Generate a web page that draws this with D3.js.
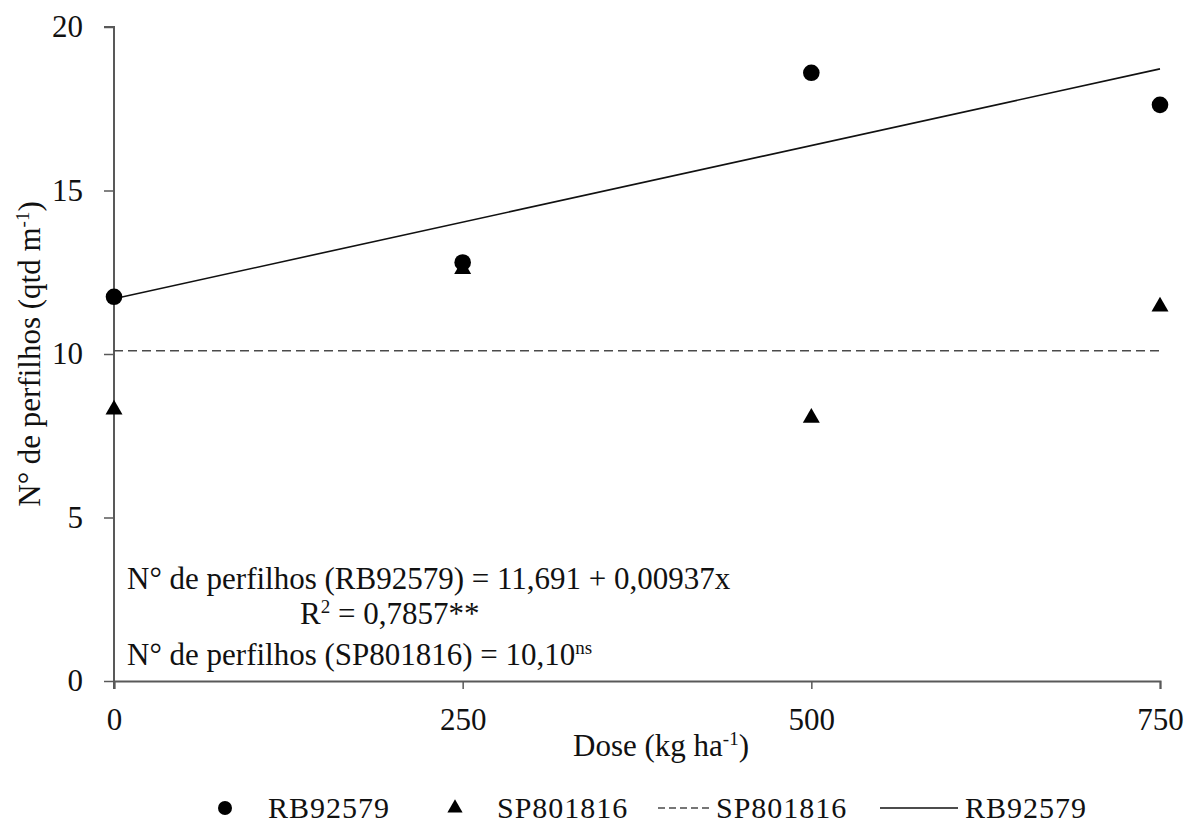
<!DOCTYPE html>
<html>
<head>
<meta charset="utf-8">
<script src="https://cdn.jsdelivr.net/npm/d3@7"></script>
<style>
  html, body { margin: 0; padding: 0; background: #fff; }
  svg { display: block; font-family: "Liberation Serif", "Times New Roman", serif; }
</style>
</head>
<body>
<svg id="chart" width="1187" height="823"></svg>
<script>
// Doses of fertilizer (kg ha-1)
const doses = [0, 250, 500, 750];
// Tiller counts per metre for each cultivar
const rb92579 = [11.75, 12.8, 18.6, 17.62];
const sp801816 = [8.3, 12.6, 8.05, 11.45];
// Fitted models
const rbIntercept = 11.691;
const rbSlope = 0.00937;
const spMean = 10.10;
// Axis ticks
const xTicks = [0, 250, 500, 750];
const yTicks = [0, 5, 10, 15, 20];

(function () {
const svg = d3.select("#chart");
const mLeft = 114, mRight = 1160, mTop = 27, mBottom = 681;

const x = d3.scaleLinear().domain([0, 750]).range([mLeft, mRight]);
const y = d3.scaleLinear().domain([0, 20]).range([mBottom, mTop]);

const axisColor = "#595959";
const fontSize = 31;
const supSize = 19;

// y axis
const gy = svg.append("g").attr("transform", `translate(${mLeft},0)`)
  .call(d3.axisLeft(y).tickValues(yTicks).tickSize(10).tickPadding(21).tickFormat(d3.format("d")));
// x axis
const gx = svg.append("g").attr("transform", `translate(0,${mBottom})`)
  .call(d3.axisBottom(x).tickValues(xTicks).tickSize(8).tickPadding(19).tickFormat(d3.format("d")));
[gx, gy].forEach(g => {
  g.select(".domain").attr("stroke", axisColor).attr("stroke-width", 2);
  g.selectAll(".tick line").attr("stroke", axisColor).attr("stroke-width", 1.5);
  g.selectAll(".tick text").attr("fill", "#111")
    .style("font-family", "'Liberation Serif', 'Times New Roman', serif")
    .style("font-size", fontSize + "px");
});
// the y axis line reaches down past the origin tick
gy.select(".domain").attr("d", `M-10,${mTop}H0V${mBottom + 8}`);

// Constant model for SP801816 (dashed)
svg.append("line")
  .attr("x1", x(0)).attr("x2", x(750))
  .attr("y1", y(spMean)).attr("y2", y(spMean))
  .attr("stroke", "#4a4a4a").attr("stroke-width", 1.5)
  .attr("stroke-dasharray", "9,5");

// Linear model for RB92579
const line = d3.line().x(d => x(d)).y(d => y(rbIntercept + rbSlope * d));
svg.append("path").datum([0, 750]).attr("d", line)
  .attr("fill", "none").attr("stroke", "#111").attr("stroke-width", 1.6);

// Observed points
const tri = d3.symbol().type(d3.symbolTriangle).size(125);
svg.append("g").selectAll("path").data(doses).join("path")
  .attr("d", tri)
  .attr("transform", (d, i) => `translate(${x(d)},${y(sp801816[i])})`)
  .attr("fill", "#000");
svg.append("g").selectAll("circle").data(doses).join("circle")
  .attr("cx", d => x(d)).attr("cy", (d, i) => y(rb92579[i]))
  .attr("r", 8.3).attr("fill", "#000");

// Axis titles
svg.append("text")
  .attr("transform", `translate(40,${(mTop + mBottom) / 2}) rotate(-90)`)
  .attr("text-anchor", "middle").style("font-size", fontSize + "px").attr("fill", "#111")
  .call(t => {
    t.append("tspan").text("N° de perfilhos (qtd m");
    t.append("tspan").attr("dy", -11).style("font-size", supSize + "px").text("-1");
    t.append("tspan").attr("dy", 11).text(")");
  });
svg.append("text")
  .attr("x", 661).attr("y", 756)
  .attr("text-anchor", "middle").style("font-size", fontSize + "px").attr("fill", "#111")
  .call(t => {
    t.append("tspan").text("Dose (kg ha");
    t.append("tspan").attr("dy", -11).style("font-size", supSize + "px").text("-1");
    t.append("tspan").attr("dy", 11).text(")");
  });

// Regression equations
const eq = svg.append("g").style("font-size", fontSize + "px").attr("fill", "#111");
eq.append("text").attr("x", 127).attr("y", 589)
  .text("N° de perfilhos (RB92579) = 11,691 + 0,00937x");
eq.append("text").attr("x", 300).attr("y", 624)
  .call(t => {
    t.append("tspan").text("R");
    t.append("tspan").attr("dy", -11).style("font-size", supSize + "px").text("2");
    t.append("tspan").attr("dy", 11).text(" = 0,7857**");
  });
eq.append("text").attr("x", 127).attr("y", 665)
  .call(t => {
    t.append("tspan").text("N° de perfilhos (SP801816) = 10,10");
    t.append("tspan").attr("dy", -11).style("font-size", supSize + "px").text("ns");
  });

// Legend
const ly = 808;
const lg = svg.append("g").style("font-size", "30px").style("letter-spacing", "1px").attr("fill", "#111");
lg.append("circle").attr("cx", 225).attr("cy", ly).attr("r", 7).attr("fill", "#000");
lg.append("text").attr("x", 268).attr("y", ly + 10).text("RB92579");
lg.append("path").attr("d", d3.symbol().type(d3.symbolTriangle).size(100))
  .attr("transform", `translate(455,${ly})`).attr("fill", "#000");
lg.append("text").attr("x", 497).attr("y", ly + 10).text("SP801816");
lg.append("line").attr("x1", 658).attr("x2", 712).attr("y1", ly).attr("y2", ly)
  .attr("stroke", "#4a4a4a").attr("stroke-width", 1.5).attr("stroke-dasharray", "7,4");
lg.append("text").attr("x", 716).attr("y", ly + 10).text("SP801816");
lg.append("line").attr("x1", 880).attr("x2", 958).attr("y1", ly).attr("y2", ly)
  .attr("stroke", "#111").attr("stroke-width", 1.5);
lg.append("text").attr("x", 965).attr("y", ly + 10).text("RB92579");
})();
</script>
</body>
</html>
